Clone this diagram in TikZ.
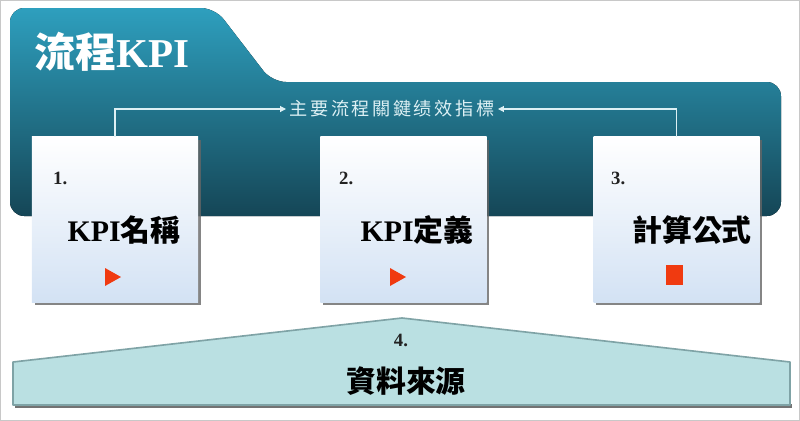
\documentclass[tikz,border=0pt]{standalone}
\usepackage{fontspec}
\setmainfont{Liberation Serif}
\newfontfamily\cjk{Noto Sans CJK TC}
\newfontfamily\cjksub{Noto Sans CJK TC}[LetterSpace=14]
\usetikzlibrary{shadows,arrows.meta}

\definecolor{tealtop}{HTML}{2E9FBE}
\definecolor{tealbot}{HTML}{154656}
\definecolor{boxblue}{HTML}{D3E2F4}
\definecolor{redmark}{HTML}{F03A10}
\definecolor{datafill}{HTML}{BAE0E2}
\definecolor{dataline}{HTML}{7FA3A6}
\definecolor{subtext}{HTML}{DDF0F4}
\definecolor{darktext}{HTML}{222222}
\definecolor{framegray}{HTML}{C8C8C8}

\begin{document}
\begin{tikzpicture}[x=0.03cm,y=-0.03cm,
        kpibox/.style={minimum width=4.98cm,minimum height=4.95cm,inner sep=0pt,
            top color=white,bottom color=boxblue,
            drop shadow={shadow xshift=2.2pt,shadow yshift=-2.2pt,fill=black!60,opacity=0.8}},
        numtext/.style={anchor=west,text=darktext,font=\bfseries\fontsize{16}{18}\selectfont},
        boxtitle/.style={text=black,font=\bfseries\fontsize{25.5}{28}\selectfont},
        flowline/.style={draw=subtext,line width=0.9pt,-{Triangle[length=5pt,width=5pt]}}]
        \useasboundingbox (0,0) rectangle (800,421);
        \draw[framegray,line width=0.8pt] (0.5,0.5) rectangle (799.5,420.5);

        % Draw the teal tab
        \fill[top color=tealtop,bottom color=tealbot,rounded corners=12pt]
            (10,216) -- (10,8) -- (215,8) -- (272,82) -- (781,82) -- (781,216) -- cycle;
        \node[text=white,font=\bfseries\fontsize{35}{38}\selectfont] (title) at (112,52) {{\cjk 流程}KPI};

        % Draw the three boxes
        \node[kpibox] (b1) at (115,219.5) {};
        \node[kpibox] (b2) at (403.5,219.5) {};
        \node[kpibox] (b3) at (676.5,219.5) {};

        \node[numtext] (n1) at (49,178) {1.};
        \node[numtext] (n2) at (335,178) {2.};
        \node[numtext] (n3) at (607,178) {3.};

        \node[boxtitle] (t1) at (124,230) {KPI{\cjk 名稱}};
        \node[boxtitle] (t2) at (417,230) {KPI{\cjk 定義}};
        \node[boxtitle] (t3) at (692,230) {\cjk 計算公式};

        \fill[redmark] (105,268) -- (121,277) -- (105,286) -- cycle;
        \fill[redmark] (390,268) -- (406,277) -- (390,286) -- cycle;
        \fill[redmark] (666,265) rectangle (683,285);

        % Add the connectors
        \node[text=subtext,inner sep=3pt,font=\cjksub\fontsize{15.5}{18}\selectfont] (sub) at (392,109) {主要流程關鍵绩效指標};
        \draw[flowline] (b1.north) |- (sub.west);
        \draw[flowline] (b3.north) |- (sub.east);

        % Draw the data source base
        \fill[black!55] (15,404) rectangle (792,408);
        \draw[fill=datafill,draw=dataline,line width=1.4pt,line join=round]
            (13,362) -- (402,318) -- (790,362) -- (790,405) -- (13,405) -- cycle;
        \node[text=darktext,font=\bfseries\fontsize{16}{18}\selectfont] (n4) at (401,340) {4.};
        \node[boxtitle] (t4) at (406,381) {\cjk 資料來源};
    \end{tikzpicture}
\end{document}
